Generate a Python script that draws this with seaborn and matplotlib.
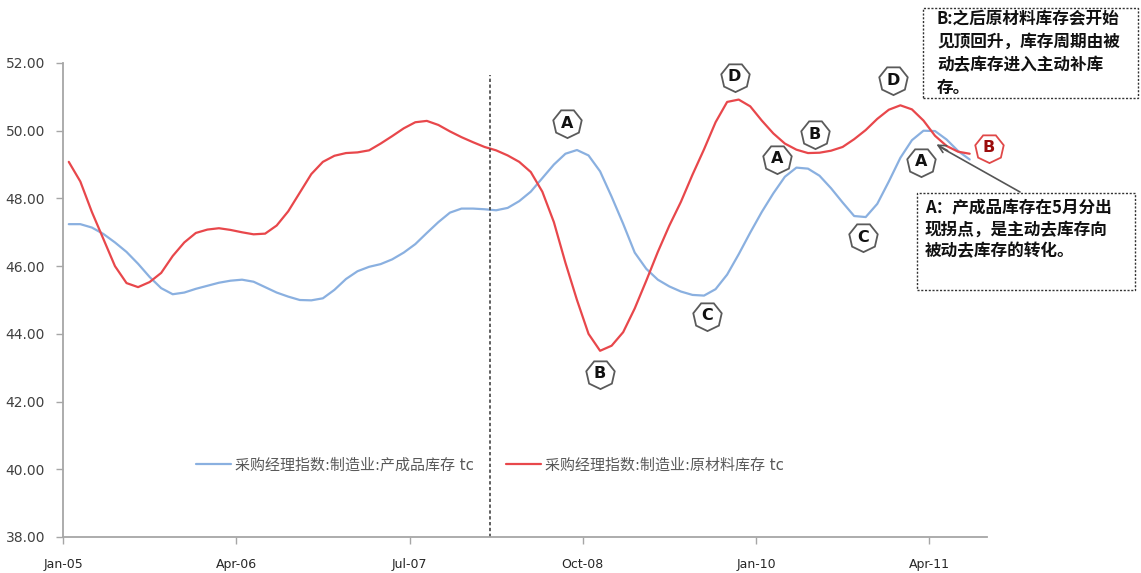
import matplotlib
matplotlib.use("Agg")
import matplotlib.pyplot as plt
import matplotlib.transforms as mtransforms
from matplotlib.patches import Rectangle
import seaborn as sns
import pandas as pd

# ---------------- data (monthly, Jan-2005 .. Jul-2011) ----------------
finished_goods = [47.24, 47.24, 47.14, 46.95, 46.70, 46.42, 46.07, 45.68, 45.35, 45.17,
                  45.22, 45.33, 45.42, 45.51, 45.57, 45.60, 45.54, 45.38, 45.22, 45.10,
                  45.00, 44.99, 45.05, 45.30, 45.62, 45.85, 45.98, 46.06, 46.20, 46.40,
                  46.65, 46.98, 47.30, 47.58, 47.70, 47.70, 47.68, 47.65, 47.72, 47.92,
                  48.20, 48.60, 49.00, 49.32, 49.43, 49.27, 48.80, 48.05, 47.25, 46.40,
                  45.92, 45.60, 45.40, 45.25, 45.15, 45.13, 45.32, 45.75, 46.35, 46.99,
                  47.60, 48.15, 48.64, 48.91, 48.88, 48.67, 48.30, 47.88, 47.48, 47.45,
                  47.84, 48.50, 49.20, 49.72, 50.00, 49.99, 49.74, 49.40, 49.15]
raw_materials = [49.08, 48.50, 47.60, 46.80, 46.00, 45.50, 45.38, 45.53, 45.80, 46.30,
                 46.70, 46.98, 47.08, 47.12, 47.07, 47.00, 46.94, 46.96, 47.20, 47.62,
                 48.17, 48.72, 49.08, 49.26, 49.34, 49.36, 49.42, 49.62, 49.84, 50.07,
                 50.25, 50.29, 50.17, 49.98, 49.81, 49.66, 49.52, 49.42, 49.27, 49.08,
                 48.78, 48.20, 47.30, 46.10, 45.00, 44.00, 43.50, 43.65, 44.05, 44.75,
                 45.57, 46.42, 47.20, 47.90, 48.70, 49.45, 50.25, 50.85, 50.92, 50.72,
                 50.30, 49.92, 49.62, 49.44, 49.34, 49.35, 49.41, 49.52, 49.75, 50.02,
                 50.35, 50.62, 50.75, 50.63, 50.30, 49.85, 49.55, 49.38, 49.32]
series_names = ["采购经理指数:制造业:产成品库存 tc", "采购经理指数:制造业:原材料库存 tc"]
xtick_labels = ["Jan-05", "Apr-06", "Jul-07", "Oct-08", "Jan-10", "Apr-11"]
ytick_values = [38, 40, 42, 44, 46, 48, 50, 52]
divider_month = 36.5

# annotation markers: (letter, series index, month index, dx px, dy px, style)
markers = [
    ("A", 0, 44, -10, 27, "gray"),
    ("B", 1, 46, 0, -23, "gray"),
    ("D", 1, 58, -4, 23, "gray"),
    ("A", 0, 63, -19, 9, "gray"),
    ("B", 1, 64, 7, 19, "gray"),
    ("C", 0, 55, 3, -20, "gray"),
    ("C", 0, 69, -3, -20, "gray"),
    ("D", 1, 72, -7, 25, "gray"),
    ("A", 0, 74, -2, -31, "gray"),
    ("B", 1, 78, 19, 6, "red"),
]
note_b = "B:之后原材料库存会开始\n见顶回升，库存周期由被\n动去库存进入主动补库\n存。"
note_a = "A：产成品库存在5月分出\n现拐点，是主动去库存向\n被动去库存的转化。"

# ---------------- figure ----------------
W, H = 1141, 573
sns.set_style("white")
plt.rcParams["font.family"] = ["DejaVu Sans", "Noto Sans CJK SC"]

fig = plt.figure(figsize=(W / 100, H / 100), dpi=100)
ax = fig.add_axes([63 / W, (H - 537) / H, (987 - 63) / W, (537 - 63) / H])

n = len(finished_goods)
df = pd.DataFrame({
    "month": list(range(n)) * 2,
    "value": finished_goods + raw_materials,
    "series": [series_names[0]] * n + [series_names[1]] * n,
})
palette = {series_names[0]: "#8ab0e0", series_names[1]: "#e8474b"}
sns.lineplot(data=df, x="month", y="value", hue="series", palette=palette,
             linewidth=1.6, ax=ax, legend=True)

ax.set_xlim(-0.5, 79.5)
ax.set_ylim(38, 52)
ax.set_xticks([-0.5 + 15 * i for i in range(len(xtick_labels))])
ax.set_xticklabels(xtick_labels, fontsize=9, color="#262626")
ax.set_yticks(ytick_values)
ax.set_yticklabels([f"{v:.2f}" for v in ytick_values], fontsize=10, color="#404040")
ax.set_xlabel("")
ax.set_ylabel("")
for s in ["top", "right"]:
    ax.spines[s].set_visible(False)
for s in ["left", "bottom"]:
    ax.spines[s].set_color("#a6a6a6")
    ax.spines[s].set_linewidth(1.3)
ax.tick_params(axis="both", which="both", direction="out", length=5, width=1,
               color="#a6a6a6", left=True, bottom=True)
ax.tick_params(axis="x", pad=10)
ax.tick_params(axis="y", pad=8)

# divider
ax.axvline(divider_month, ymin=0, ymax=(537 - 75) / 474, color="#444444",
           linestyle=(0, (2, 1.5)), linewidth=1.2)

# legend
handles, labels = ax.get_legend_handles_labels()
leg = ax.legend(handles, labels, ncol=2, loc="center", bbox_to_anchor=(0.462, 0.152),
                frameon=False, handlelength=2.3, columnspacing=2.2, handletextpad=0.25,
                prop={"family": ["DejaVu Sans", "Noto Sans CJK SC"], "size": 10.8})
for t in leg.get_texts():
    t.set_color("#595959")

# heptagon markers
series_vals = [finished_goods, raw_materials]
for letter, si, mi, dx, dy, style in markers:
    tr = mtransforms.offset_copy(ax.transData, fig=fig, x=dx, y=dy, units="dots")
    ec = "#5a5a5a" if style == "gray" else "#e04848"
    tc = "#111111" if style == "gray" else "#9b0d0d"
    ax.plot([mi], [series_vals[si][mi]], marker=(7, 0, 180), markersize=21,
            markerfacecolor="white", markeredgecolor=ec, markeredgewidth=1.3,
            transform=tr, clip_on=False, zorder=5)
    ax.text(mi, series_vals[si][mi], letter, transform=tr, ha="center", va="center",
            fontsize=11.5, fontweight="bold", color=tc, zorder=6, clip_on=False)


def fx(x):
    return x / W


def fy(y):
    return 1 - y / H


# note boxes
for (x0, y0, x1, y1) in [(923, 8, 1138, 98), (917, 193, 1135, 290)]:
    fig.add_artist(Rectangle((fx(x0), fy(y1)), fx(x1) - fx(x0), fy(y0) - fy(y1),
                             transform=fig.transFigure, fill=False,
                             edgecolor="#333333", linewidth=1.0, linestyle=(0, (1.5, 1.2))))

fig.text(fx(937), fy(10), note_b, ha="left", va="top", fontsize=12, fontweight="bold",
         linespacing=1.35, color="#111111", family=["Noto Sans CJK SC", "DejaVu Sans"])
fig.text(fx(925), fy(199), note_a, ha="left", va="top", fontsize=12, fontweight="bold",
         linespacing=1.25, color="#111111", family=["Noto Sans CJK SC", "DejaVu Sans"])

fig.add_artist(plt.Line2D([fx(1020), fx(940)], [fy(192), fy(147)], transform=fig.transFigure,
                          color="#555555", linewidth=1.2))
ax.annotate("", xy=(fx(934), fy(143)), xytext=(fx(950), fy(152)), xycoords="figure fraction",
            textcoords="figure fraction",
            arrowprops=dict(arrowstyle="->", color="#555555", lw=1.2, mutation_scale=14))

fig.savefig("out.png", dpi=100)
